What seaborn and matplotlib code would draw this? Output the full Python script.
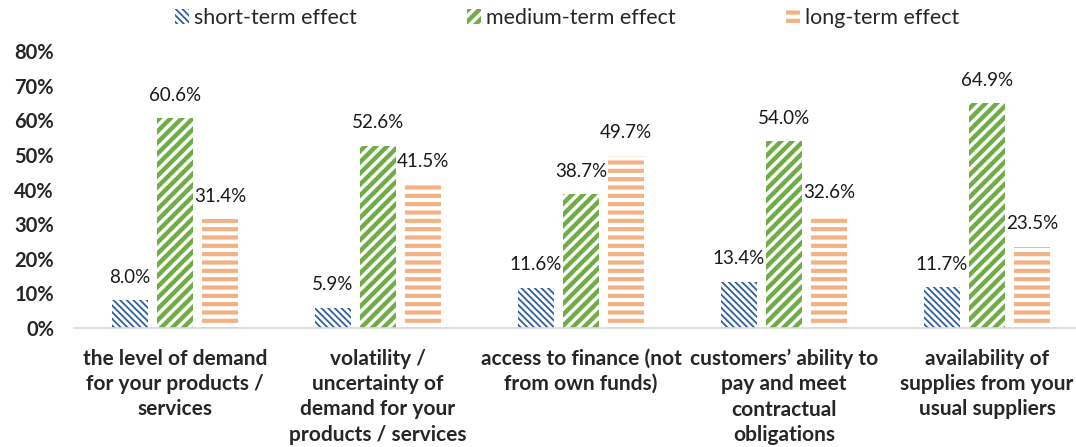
import matplotlib
matplotlib.use("Agg")
import matplotlib.pyplot as plt
import seaborn as sns
import pandas as pd
from matplotlib.patches import Patch

categories = [
    "the level of demand\nfor your products /\nservices",
    "volatility /\nuncertainty of\ndemand for your\nproducts / services",
    "access to finance (not\nfrom own funds)",
    "customers\u2019 ability to\npay and meet\ncontractual\nobligations",
    "availability of\nsupplies from your\nusual suppliers",
]
series = ["short-term effect", "medium-term effect", "long-term effect"]
short_term = [8.0, 5.9, 11.6, 13.4, 11.7]
medium_term = [60.6, 52.6, 38.7, 54.0, 64.9]
long_term = [31.4, 41.5, 49.7, 32.6, 23.5]
y_ticks = [0, 10, 20, 30, 40, 50, 60, 70, 80]

colors = ["#2E5F9E", "#70AD47", "#F4B183"]
hatches = ["\\" * 5, "///", "--"]
hatch_lw = [1.3, 3.2, 3.0]

rows = []
for s, vals in zip(series, [short_term, medium_term, long_term]):
    for c, v in zip(categories, vals):
        rows.append({"category": c, "series": s, "value": v})
df = pd.DataFrame(rows)

sns.set_style("white")
plt.rcParams["font.family"] = ["Lato", "DejaVu Sans"]

fig = plt.figure(figsize=(10.76, 4.47), dpi=100)
ax = fig.add_axes([73.5 / 1076, 1 - 328 / 447, 1015 / 1076, (328 - 51) / 447])

sns.barplot(data=df, x="category", y="value", hue="series", order=categories,
            hue_order=series, palette=colors, width=0.665, gap=0.22,
            legend=False, ax=ax, saturation=1)

for i, cont in enumerate(ax.containers):
    for p in cont.patches:
        p.set_facecolor("white")
        p.set_edgecolor(colors[i])
        p.set_linewidth(0)
        p.set_hatch(hatches[i])
        if hasattr(p, "set_hatch_linewidth"):
            p.set_hatch_linewidth(hatch_lw[i])
    labels = [f"{v:.1f}%" for v in cont.datavalues]
    for p, lab in zip(cont.patches, labels):
        ax.annotate(lab, (p.get_x() + p.get_width() / 2, p.get_height()),
                    xytext=(0, 16.5), textcoords="offset points",
                    ha="center", va="center", fontsize=13.5, color="#1a1a1a")

ax.set_ylim(0, 80)
ax.set_xlim(-0.5, 4.5)
ax.set_yticks(y_ticks)
ax.set_yticklabels([f"{t}%" for t in y_ticks], fontsize=14.5, fontweight="bold")
ax.tick_params(axis="x", labelsize=15, length=0, pad=15)
ax.tick_params(axis="y", length=0, pad=14)
for lab in ax.get_xticklabels():
    lab.set_fontweight("bold")
    lab.set_linespacing(1.33)
ax.set_xlabel("")
ax.set_ylabel("")
for s in ["top", "right", "left"]:
    ax.spines[s].set_visible(False)
ax.spines["bottom"].set_color("#D9D9D9")
ax.spines["bottom"].set_linewidth(1.2)

handles = []
for i, s in enumerate(series):
    h = Patch(facecolor="white", edgecolor=colors[i], linewidth=0, hatch=hatches[i], label=s)
    handles.append(h)
leg = fig.legend(handles=handles, loc="upper center", bbox_to_anchor=(0.527, 1.025), ncol=3,
                 frameon=False, fontsize=15.4, handlelength=0.65, handleheight=0.65,
                 handletextpad=0.25, columnspacing=5.15)
for i, h in enumerate(leg.legend_handles):
    if hasattr(h, "set_hatch_linewidth"):
        h.set_hatch_linewidth(hatch_lw[i])

fig.savefig("out.png", dpi=100)
